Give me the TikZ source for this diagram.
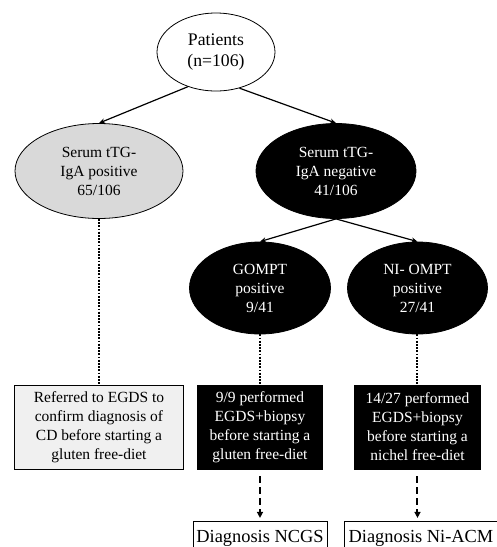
\documentclass[tikz,border=0pt]{standalone}
\usepackage{fontspec}
\setmainfont{Liberation Serif}
\usetikzlibrary{positioning}
\usetikzlibrary{shapes.geometric}
\usetikzlibrary{arrows.meta}

\begin{document}
\begin{tikzpicture}[on grid,
    txt/.style={font=\fontsize{15.5}{19}\selectfont, align=center, inner sep=0pt},
    oval/.style={txt, ellipse, draw=black, line width=0.8pt},
    darkoval/.style={oval, fill=black, text=white},
    panel/.style={txt, rectangle, draw=black, line width=0.8pt, minimum height=84pt},
    darkpanel/.style={panel, fill=black, text=white},
    result/.style={rectangle, draw=black, line width=0.8pt, font=\fontsize{18.4}{22}\selectfont, minimum height=33.4pt},
    link/.style={-{Stealth[length=6pt,width=5pt]}, line width=1.2pt},
    dots/.style={line width=2pt, dash pattern=on 1.8pt off 1.4pt},
    jump/.style={-{Triangle[length=6pt,width=6pt]}, line width=2pt, dash pattern=on 7pt off 4pt}]
   \useasboundingbox (-216pt,52pt) rectangle (281pt,-495pt);
   \clip (-216pt,52pt) rectangle (281pt,-495pt);
   \node[oval, minimum width=118pt, minimum height=78pt, font=\fontsize{17.7}{21.7}\selectfont] (pat) {Patients\\(n=106)};
   \node[oval, fill=black!15, minimum width=168pt, minimum height=95pt] (tpos) [below left=119pt and 117pt of pat] {Serum tTG-\\IgA positive\\65/106};
   \node[darkoval, minimum width=160pt, minimum height=95pt] (tneg) [below right=119pt and 120pt of pat] {Serum tTG-\\IgA negative\\41/106};
   \node[darkoval, minimum width=141pt, minimum height=92pt] (gompt) [below left=117pt and 76pt of tneg] {GOMPT\\positive\\9/41};
   \node[darkoval, minimum width=140pt, minimum height=92pt] (niompt) [below right=117pt and 81.5pt of tneg] {NI- OMPT\\positive\\27/41};
   \node[panel, fill=black!6, minimum width=169pt] (refer) [below=256pt of tpos] {Referred to EGDS to\\confirm diagnosis of\\CD before starting a\\gluten free-diet};
   \node[darkpanel, minimum width=125pt] (perf_g) [below=139pt of gompt] {9/9 performed\\EGDS+biopsy\\before starting a\\gluten free-diet};
   \node[darkpanel, minimum width=126pt] (perf_n) [below=139pt of niompt] {14/27 performed\\EGDS+biopsy\\before starting a\\nichel free-diet};
   \node[result, minimum width=131pt] (diag_g) [below=111pt of perf_g] {Diagnosis NCGS};
   \node[result, minimum width=154pt] (diag_n) [below right=111pt and 3.5pt of perf_n] {Diagnosis Ni-ACM};
    \draw[link] (pat.-129) -- (tpos.north);
    \draw[link] (pat.-57) -- (tneg.north);
    \draw[link] (tneg.south) -- (gompt.north);
    \draw[link] (tneg.south) -- (niompt.north);
    \draw[dots] (tpos.south) -- (refer.north);
    \draw[dots] (gompt.south) -- (perf_g.north);
    \draw[dots] (niompt.south) -- (perf_n.north);
    \draw[jump, shorten <=7pt, shorten >=3pt] (perf_g.south) -- (diag_g.north);
    \draw[jump, shorten <=7pt, shorten >=3pt] (perf_n.south) -- (perf_n.south |- diag_n.north);
\end{tikzpicture}
\end{document}
